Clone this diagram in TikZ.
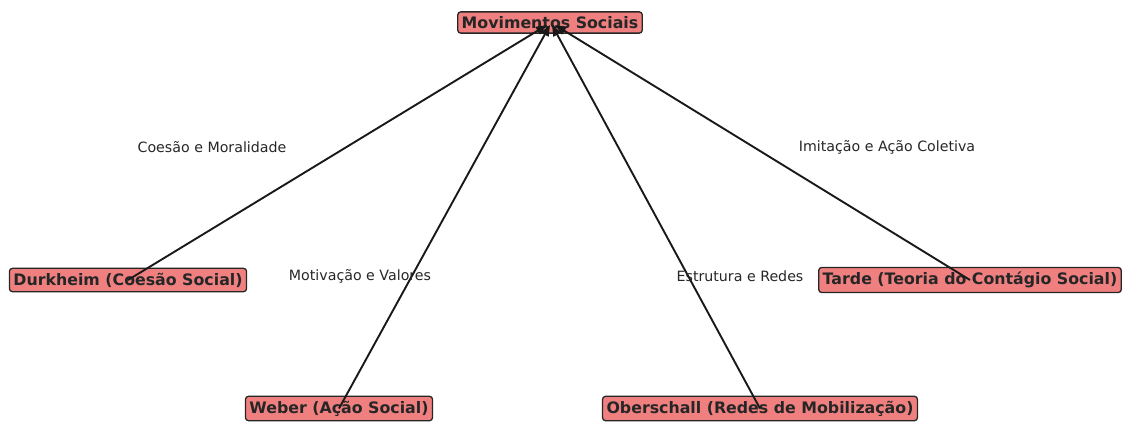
\documentclass[tikz,border=0pt]{standalone}
\usepackage{fontspec}
\setmainfont{DejaVu Sans}
\usetikzlibrary{arrows.meta}
\definecolor{nodefill}{HTML}{F08080}
\begin{document}
\begin{tikzpicture}[x=1pt,y=-1pt,
  box/.style={draw=black!85, line width=1.3pt, fill=nodefill, rounded corners=3pt,
    inner xsep=4pt, inner ysep=4.5pt, font=\fontsize{15.8}{18}\selectfont\bfseries, text=black!85},
  rel/.style={line width=1.9pt, draw=black!90, -{Triangle[length=11pt,width=8.5pt]}},
  lbl/.style={font=\fontsize{14.2}{16}\selectfont, text=black!85}]
\useasboundingbox (0,0) rectangle (1124,421);
\node[box] (m) at (550,22.5) {Movimentos Sociais};
\node[box] (d) at (128,280) {Durkheim (Coesão Social)};
\node[box] (t) at (970,280) {Tarde (Teoria do Contágio Social)};
\node[box] (w) at (339,408.5) {Weber (Ação Social)};
\node[box] (o) at (760,408.5) {Oberschall (Redes de Mobilização)};
\coordinate (t1) at (547,25);
\coordinate (t2) at (550,25);
\coordinate (t3) at (552,25);
\coordinate (t4) at (555,25);
\draw[rel] (d.center) -- (t1);
\draw[rel] (w.center) -- (t2);
\draw[rel] (o.center) -- (t3);
\draw[rel] (t.center) -- (t4);
\node[lbl] (l1) at (212,147) {Coesão e Moralidade};
\node[lbl] (l2) at (887,147) {Imitação e Ação Coletiva};
\node[lbl] (l3) at (360,276) {Motivação e Valores};
\node[lbl] (l4) at (740,276) {Estrutura e Redes};
\end{tikzpicture}
\end{document}
